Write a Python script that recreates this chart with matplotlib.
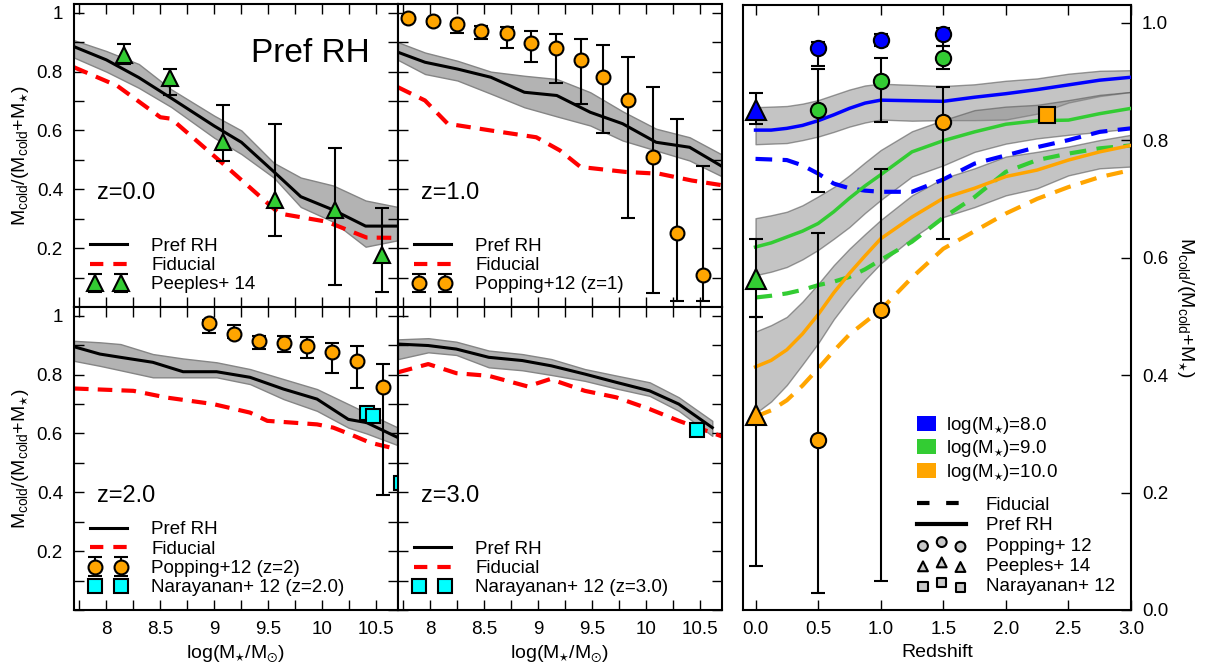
import numpy as np
import matplotlib
matplotlib.use('Agg')
import matplotlib.pyplot as plt
from matplotlib.patches import Patch
from matplotlib.lines import Line2D
from matplotlib.legend_handler import HandlerLine2D
from matplotlib.ticker import MultipleLocator, FixedLocator, FormatStrFormatter

plt.rcParams['font.family'] = ['Liberation Sans', 'DejaVu Sans']
plt.rcParams['mathtext.fontset'] = 'custom'
plt.rcParams['mathtext.rm'] = 'Liberation Sans'
plt.rcParams['mathtext.it'] = 'Liberation Sans:italic'
plt.rcParams['mathtext.default'] = 'regular'
plt.rcParams['font.size'] = 13.5

ORANGE = '#FFA500'
GREEN = '#33CC33'
BLUE = '#0000FF'
CYAN = '#00FFFF'
RED = '#FF0000'

# ---- mass panels: Pref RH median + band, Fiducial ----
x_z0 = [7.7, 8.0, 8.3, 8.6, 9.0, 9.25, 9.55, 9.8, 10.1, 10.4, 10.7]
pref_z0 = [0.885, 0.84, 0.78, 0.71, 0.615, 0.56, 0.46, 0.375, 0.33, 0.275, 0.275]
up_z0 = [0.907, 0.87, 0.826, 0.74, 0.65, 0.60, 0.49, 0.44, 0.413, 0.362, 0.34]
lo_z0 = [0.848, 0.80, 0.745, 0.68, 0.575, 0.52, 0.44, 0.34, 0.29, 0.205, 0.227]
xf_z0 = [7.7, 8.1, 8.5, 8.6, 9.08, 9.6, 10.04, 10.41, 10.7]
fid_z0 = [0.815, 0.752, 0.645, 0.64, 0.487, 0.318, 0.29, 0.236, 0.235]

x_z1 = [7.7, 7.95, 8.25, 8.56, 8.87, 9.17, 9.48, 9.78, 10.09, 10.4, 10.7]
pref_z1 = [0.866, 0.832, 0.809, 0.781, 0.73, 0.719, 0.662, 0.623, 0.56, 0.543, 0.478]
up_z1 = [0.90, 0.865, 0.837, 0.80, 0.786, 0.775, 0.73, 0.665, 0.606, 0.577, 0.518]
lo_z1 = [0.84, 0.792, 0.77, 0.725, 0.679, 0.648, 0.617, 0.566, 0.532, 0.498, 0.444]
xf_z1 = [7.7, 7.95, 8.16, 8.56, 8.98, 9.2, 9.39, 9.81, 10.12, 10.42, 10.7]
fid_z1 = [0.747, 0.702, 0.623, 0.60, 0.577, 0.532, 0.476, 0.459, 0.453, 0.43, 0.414]

x_z2 = [7.7, 7.94, 8.13, 8.43, 8.71, 9.02, 9.33, 9.64, 9.95, 10.24, 10.41, 10.7]
pref_z2 = [0.895, 0.87, 0.859, 0.842, 0.81, 0.81, 0.791, 0.751, 0.717, 0.648, 0.637, 0.586]
up_z2 = [0.915, 0.91, 0.904, 0.87, 0.855, 0.842, 0.819, 0.785, 0.751, 0.70, 0.67, 0.62]
lo_z2 = [0.847, 0.83, 0.815, 0.791, 0.791, 0.791, 0.768, 0.717, 0.677, 0.62, 0.60, 0.56]
xf_z2 = [7.7, 8.25, 8.56, 8.99, 9.33, 9.49, 9.95, 10.1, 10.26, 10.44, 10.7]
fid_z2 = [0.753, 0.745, 0.722, 0.70, 0.671, 0.643, 0.631, 0.62, 0.597, 0.569, 0.546]

x_z3 = [7.7, 7.98, 8.24, 8.54, 8.85, 9.12, 9.43, 9.72, 10.03, 10.3, 10.61]
pref_z3 = [0.904, 0.899, 0.887, 0.859, 0.848, 0.83, 0.802, 0.774, 0.745, 0.70, 0.62]
up_z3 = [0.92, 0.924, 0.912, 0.882, 0.87, 0.853, 0.819, 0.797, 0.774, 0.723, 0.643]
lo_z3 = [0.853, 0.876, 0.867, 0.825, 0.815, 0.799, 0.779, 0.753, 0.728, 0.677, 0.592]
xf_z3 = [7.7, 7.98, 8.24, 8.54, 8.9, 9.11, 9.43, 9.72, 10.03, 10.3, 10.7]
fid_z3 = [0.808, 0.836, 0.805, 0.796, 0.76, 0.785, 0.745, 0.723, 0.683, 0.643, 0.59]

# ---- observations vs stellar mass ----
peeples_x = [8.16, 8.59, 9.08, 9.56, 10.12, 10.55]
peeples_y = [0.855, 0.78, 0.56, 0.363, 0.329, 0.176]
peeples_lo = [0.03, 0.059, 0.062, 0.121, 0.254, 0.126]
peeples_hi = [0.039, 0.029, 0.125, 0.26, 0.211, 0.161]

pop1_x = [7.79, 8.02, 8.25, 8.47, 8.71, 8.93, 9.16, 9.39, 9.6, 9.83, 10.06, 10.28, 10.52]
pop1_y = [0.982, 0.971, 0.962, 0.939, 0.931, 0.899, 0.882, 0.841, 0.781, 0.702, 0.509, 0.25, 0.108]
pop1_lo = [0.007, 0.009, 0.031, 0.028, 0.049, 0.067, 0.121, 0.151, 0.19, 0.401, 0.46, 0.23, 0.088]
pop1_hi = [0.008, 0.009, 0.008, 0.017, 0.022, 0.04, 0.046, 0.07, 0.111, 0.149, 0.24, 0.39, 0.373]

pop2_x = [8.95, 9.18, 9.41, 9.64, 9.86, 10.09, 10.32, 10.56]
pop2_y = [0.976, 0.939, 0.916, 0.907, 0.897, 0.876, 0.846, 0.757]
pop2_lo = [0.035, 0.014, 0.029, 0.029, 0.042, 0.071, 0.092, 0.365]
pop2_hi = [0.009, 0.03, 0.014, 0.023, 0.03, 0.031, 0.051, 0.079]

nar2_x = [10.41, 10.47, 10.73]
nar2_y = [0.668, 0.658, 0.432]
nar3_x = [10.47]
nar3_y = [0.611]

# ---- redshift panel ----
zz = [0.0, 0.125, 0.25, 0.375, 0.5, 0.625, 0.75, 0.875, 1.0, 1.25, 1.5, 1.75, 2.0, 2.25, 2.5, 2.75, 3.0]
pref_m8 = [0.817, 0.817, 0.82, 0.825, 0.833, 0.843, 0.854, 0.863, 0.868, 0.867, 0.866, 0.873, 0.879, 0.886, 0.894, 0.902, 0.907]
up_m8 = [0.856, 0.857, 0.858, 0.862, 0.868, 0.877, 0.886, 0.893, 0.896, 0.894, 0.892, 0.895, 0.901, 0.905, 0.913, 0.918, 0.919]
lo_m8 = [0.793, 0.794, 0.795, 0.80, 0.806, 0.814, 0.823, 0.83, 0.835, 0.833, 0.834, 0.834, 0.835, 0.845, 0.864, 0.875, 0.882]
pref_m9 = [0.618, 0.625, 0.635, 0.645, 0.658, 0.678, 0.701, 0.722, 0.741, 0.78, 0.799, 0.814, 0.827, 0.833, 0.834, 0.845, 0.854]
up_m9 = [0.667, 0.672, 0.678, 0.689, 0.704, 0.72, 0.74, 0.762, 0.783, 0.815, 0.834, 0.851, 0.857, 0.86, 0.868, 0.877, 0.882]
lo_m9 = [0.57, 0.576, 0.584, 0.597, 0.613, 0.632, 0.652, 0.676, 0.698, 0.738, 0.757, 0.78, 0.794, 0.803, 0.809, 0.814, 0.82]
pref_m10 = [0.414, 0.425, 0.443, 0.47, 0.503, 0.54, 0.573, 0.603, 0.632, 0.669, 0.701, 0.718, 0.738, 0.749, 0.766, 0.78, 0.791]
up_m10 = [0.474, 0.485, 0.499, 0.525, 0.555, 0.587, 0.615, 0.64, 0.664, 0.706, 0.735, 0.752, 0.772, 0.78, 0.789, 0.80, 0.809]
lo_m10 = [0.335, 0.355, 0.383, 0.418, 0.454, 0.495, 0.53, 0.562, 0.59, 0.633, 0.669, 0.686, 0.706, 0.718, 0.74, 0.752, 0.755]
fid_m8 = [0.768, 0.767, 0.766, 0.757, 0.743, 0.726, 0.718, 0.714, 0.712, 0.712, 0.733, 0.76, 0.774, 0.788, 0.80, 0.814, 0.82]
fid_m9 = [0.532, 0.535, 0.539, 0.545, 0.553, 0.559, 0.567, 0.58, 0.596, 0.627, 0.668, 0.703, 0.746, 0.766, 0.777, 0.786, 0.791]
fid_m10 = [0.329, 0.34, 0.357, 0.382, 0.411, 0.441, 0.469, 0.49, 0.511, 0.566, 0.615, 0.645, 0.675, 0.70, 0.72, 0.737, 0.749]

pop_z = [0.5, 1.0, 1.5]
pop_m8 = [0.957, 0.971, 0.981]
pop_m8_lo = [0.031, 0.01, 0.02]
pop_m8_hi = [0.01, 0.01, 0.01]
pop_m9 = [0.851, 0.90, 0.94]
pop_m9_lo = [0.14, 0.07, 0.019]
pop_m9_hi = [0.07, 0.04, 0.02]
pop_m10 = [0.289, 0.511, 0.831]
pop_m10_lo = [0.26, 0.461, 0.20]
pop_m10_hi = [0.352, 0.239, 0.06]

peep_z = [0.0]
peep_m8, peep_m8_lo, peep_m8_hi = [0.851], [0.024], [0.03]
peep_m9, peep_m9_lo, peep_m9_hi = [0.563], [0.064], [0.068]
peep_m10, peep_m10_lo, peep_m10_hi = [0.332], [0.257], [0.167]

nar_z = [2.33]
nar_m10 = [0.843]

YLAB = r'M$_{\rm cold}$/(M$_{\rm cold}$+M$_{\star}$)'
XLAB = r'log(M$_{\star}$/M$_{\odot}$)'

W, H = 1206, 668


def box(x0, y0, x1, y1):
    return [x0 / W, 1 - y1 / H, (x1 - x0) / W, (y1 - y0) / H]


def mass_panel(ax, xb, pref, up, lo, xf, fid, zlabel, left, bottom):
    ax.fill_between(xb, lo, up, facecolor='#b3b3b3', edgecolor='#858585', lw=1.0, zorder=1)
    ax.plot(xb, pref, color='k', lw=2.2, zorder=3)
    ax.plot(xf, fid, color=RED, lw=3, dashes=(3.5, 2.2), zorder=2)
    ax.set_xlim(7.7, 10.7)
    ax.set_ylim(0, 1.03)
    ax.xaxis.set_major_locator(FixedLocator([8, 8.5, 9, 9.5, 10, 10.5]))
    ax.xaxis.set_minor_locator(MultipleLocator(0.25))
    ax.yaxis.set_major_locator(FixedLocator([0.2, 0.4, 0.6, 0.8, 1.0]))
    ax.yaxis.set_minor_locator(MultipleLocator(0.1))
    ax.tick_params(which='both', direction='in', top=True, right=True,
                   length=7, width=1.0, labelsize=13.5, pad=8)
    ax.set_yticklabels(['0.2', '0.4', '0.6', '0.8', '1'])
    ax.set_xticklabels(['8', '8.5', '9', '9.5', '10', '10.5'])
    if not left:
        ax.tick_params(labelleft=False)
    else:
        ax.set_ylabel(YLAB, fontsize=14, labelpad=4)
    if not bottom:
        ax.tick_params(labelbottom=False)
    else:
        ax.set_xlabel(XLAB, fontsize=14, labelpad=4)
    for s in ax.spines.values():
        s.set_linewidth(1.5)
    ax.text(0.07, 0.375, zlabel, transform=ax.transAxes, fontsize=17,
            va='center', ha='left')
    pref_h = Line2D([], [], color='k', lw=2.2)
    fid_h = Line2D([], [], color=RED, lw=3, dashes=(3.2, 2.4))
    return pref_h, fid_h


def mass_legend(ax, handles, labels):
    hmap = {handles[0]: HandlerLine2D(numpoints=1), handles[1]: HandlerLine2D(numpoints=1)}
    ax.legend(handles, labels, handler_map=hmap, loc='lower left', frameon=False,
              numpoints=2, fontsize=13.5, handlelength=2.0, handletextpad=1.3,
              labelspacing=0.12, borderaxespad=0.0, bbox_to_anchor=(0.025, 0.02))


fig = plt.figure(figsize=(12.06, 6.68), dpi=100)
ax00 = fig.add_axes(box(74, 4, 398, 307))
ax01 = fig.add_axes(box(398, 4, 722, 307))
ax10 = fig.add_axes(box(74, 307, 398, 610))
ax11 = fig.add_axes(box(398, 307, 722, 610))
axr = fig.add_axes(box(743, 5, 1131, 610))

ebkw = dict(ecolor='k', elinewidth=1.5, capsize=5, capthick=1.5, mec='k', mew=1.5,
            linestyle='none', zorder=5)

# z = 0
h1, h2 = mass_panel(ax00, x_z0, pref_z0, up_z0, lo_z0, xf_z0, fid_z0, 'z=0.0', True, False)
eb = ax00.errorbar(peeples_x, peeples_y, yerr=[peeples_lo, peeples_hi], fmt='^', ms=12,
                   mfc=GREEN, **ebkw)
mass_legend(ax00, [h1, h2, eb], ['Pref RH', 'Fiducial', 'Peeples+ 14'])
ax00.text(0.73, 0.835, 'Pref RH', transform=ax00.transAxes, fontsize=24,
          ha='center', va='center')

# z = 1
h1, h2 = mass_panel(ax01, x_z1, pref_z1, up_z1, lo_z1, xf_z1, fid_z1, 'z=1.0', False, False)
eb = ax01.errorbar(pop1_x, pop1_y, yerr=[pop1_lo, pop1_hi], fmt='o', ms=10,
                   mfc=ORANGE, **ebkw)
mass_legend(ax01, [h1, h2, eb], ['Pref RH', 'Fiducial', 'Popping+12 (z=1)'])

# z = 2
h1, h2 = mass_panel(ax10, x_z2, pref_z2, up_z2, lo_z2, xf_z2, fid_z2, 'z=2.0', True, True)
eb = ax10.errorbar(pop2_x, pop2_y, yerr=[pop2_lo, pop2_hi], fmt='o', ms=10,
                   mfc=ORANGE, **ebkw)
sq, = ax10.plot(nar2_x, nar2_y, 's', ms=9.5, mfc=CYAN, mec='k', mew=1.5, zorder=6)
mass_legend(ax10, [h1, h2, eb, sq],
            ['Pref RH', 'Fiducial', 'Popping+12 (z=2)', 'Narayanan+ 12 (z=2.0)'])

# z = 3
h1, h2 = mass_panel(ax11, x_z3, pref_z3, up_z3, lo_z3, xf_z3, fid_z3, 'z=3.0', False, True)
sq, = ax11.plot(nar3_x, nar3_y, 's', ms=9.5, mfc=CYAN, mec='k', mew=1.5, zorder=6)
mass_legend(ax11, [h1, h2, sq], ['Pref RH', 'Fiducial', 'Narayanan+ 12 (z=3.0)'])

# redshift evolution
for pref, up, lo, fid, col in [(pref_m8, up_m8, lo_m8, fid_m8, BLUE),
                               (pref_m9, up_m9, lo_m9, fid_m9, GREEN),
                               (pref_m10, up_m10, lo_m10, fid_m10, ORANGE)]:
    axr.fill_between(zz, lo, up, facecolor=(0.54, 0.54, 0.54, 0.5),
                     edgecolor=(0.35, 0.35, 0.35, 0.6), lw=1.0, zorder=1)
    axr.plot(zz, pref, color=col, lw=2.5, zorder=3)
    axr.plot(zz, fid, color=col, lw=3, dashes=(4, 2.5), zorder=2)

for y, l, h, col in [(pop_m8, pop_m8_lo, pop_m8_hi, BLUE),
                     (pop_m9, pop_m9_lo, pop_m9_hi, GREEN),
                     (pop_m10, pop_m10_lo, pop_m10_hi, ORANGE)]:
    axr.errorbar(pop_z, y, yerr=[l, h], fmt='o', ms=11, mfc=col, **ebkw)

for y, l, h, col in [(peep_m8, peep_m8_lo, peep_m8_hi, BLUE),
                     (peep_m9, peep_m9_lo, peep_m9_hi, GREEN),
                     (peep_m10, peep_m10_lo, peep_m10_hi, ORANGE)]:
    axr.errorbar(peep_z, y, yerr=[l, h], fmt='^', ms=14, mfc=col, **ebkw)

axr.plot(nar_z, nar_m10, 's', ms=11, mfc=ORANGE, mec='k', mew=1.5, zorder=6)

axr.set_xlim(-0.1, 3.0)
axr.set_ylim(0, 1.03)
axr.xaxis.set_major_locator(MultipleLocator(0.5))
axr.yaxis.set_major_locator(MultipleLocator(0.2))
axr.xaxis.set_major_formatter(FormatStrFormatter('%.1f'))
axr.yaxis.set_major_formatter(FormatStrFormatter('%.1f'))
axr.yaxis.tick_right()
axr.yaxis.set_label_position('right')
axr.tick_params(direction='in', top=True, right=True, left=False,
                length=7, width=1.0, labelsize=13.5, pad=8)
axr.set_xlabel('Redshift', fontsize=14, labelpad=4)
axr.set_ylabel(YLAB, fontsize=14, rotation=270, labelpad=20)
for s in axr.spines.values():
    s.set_linewidth(1.5)

col_handles = [Patch(facecolor=BLUE), Patch(facecolor=GREEN), Patch(facecolor=ORANGE)]
col_labels = [r'log(M$_{\star}$)=8.0', r'log(M$_{\star}$)=9.0', r'log(M$_{\star}$)=10.0']
leg1 = axr.legend(col_handles, col_labels, loc='lower left', bbox_to_anchor=(0.43, 0.198),
                  frameon=False, handlelength=1.0, handleheight=0.85, handletextpad=0.55,
                  labelspacing=0.12, fontsize=13.5, borderaxespad=0)
axr.add_artist(leg1)

grey = '#C8C8C8'
sty_handles = [
    Line2D([], [], color='k', lw=3, dashes=(3, 4)),
    Line2D([], [], color='k', lw=3),
    axr.scatter([], [], marker='o', s=50, facecolor=grey, edgecolor='k', lw=1.5),
    axr.scatter([], [], marker='^', s=50, facecolor=grey, edgecolor='k', lw=1.5),
    axr.scatter([], [], marker='s', s=45, facecolor=grey, edgecolor='k', lw=1.5),
]
sty_labels = ['Fiducial', 'Pref RH', 'Popping+ 12', 'Peeples+ 14', 'Narayanan+ 12']
axr.legend(sty_handles, sty_labels, loc='lower left', bbox_to_anchor=(0.43, 0.012),
           frameon=False, handlelength=2.6, handletextpad=1.05, labelspacing=0.17,
           scatterpoints=3, scatteryoffsets=[0.35, 0.65, 0.3], fontsize=13.5,
           borderaxespad=0)

fig.savefig('out.png', dpi=100)
